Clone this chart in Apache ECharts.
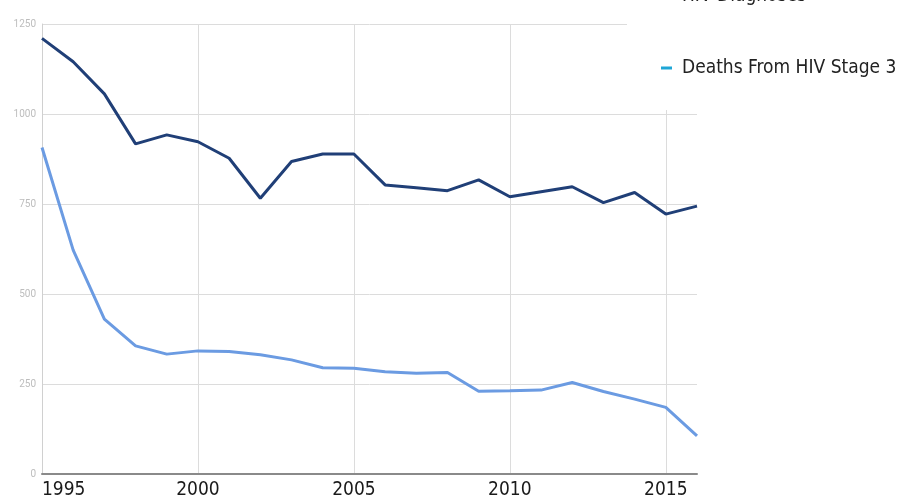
<!DOCTYPE html>
<html>
<head>
<meta charset="utf-8">
<script src="https://cdn.jsdelivr.net/npm/echarts@6/dist/echarts.min.js"></script>
<style>
  html, body { margin: 0; padding: 0; background: #fff; }
  #chart { width: 907px; height: 504px; }
</style>
</head>
<body>
<div id="chart"></div>
<script>
var years = ["1995", "1996", "1997", "1998", "1999", "2000", "2001", "2002", "2003", "2004", "2005",
  "2006", "2007", "2008", "2009", "2010", "2011", "2012", "2013", "2014", "2015", "2016"];
var diagnoses = [1210, 1145, 1056, 917, 942, 923, 877, 766, 868, 889, 889,
  803, 795, 787, 817, 770, 784, 798, 754, 782, 722, 744];
var deaths = [907, 622, 430, 356, 333, 342, 340, 331, 317, 295, 294,
  284, 280, 282, 230, 231, 233, 254, 229, 208, 185, 106];
var yTicks = [0, 250, 500, 750, 1000, 1250];

var condensed = "'DejaVu Sans Condensed', 'Liberation Sans Narrow', sans-serif";

var myChart = echarts.init(document.getElementById("chart"));

var option = {
  animation: false,
  grid: { left: 42, right: 210, top: 24, bottom: 30 },
  legend: {
    orient: "vertical",
    left: 627,
    top: -19,
    padding: [0, 0, 27, 34],
    backgroundColor: "#fff",
    icon: "rect",
    itemWidth: 11,
    itemHeight: 3,
    itemGap: 42,
    z: 10,
    textStyle: {
      fontFamily: condensed,
      fontSize: 19,
      lineHeight: 30,
      color: "#222",
      padding: [0, 0, 0, 5]
    },
    data: [
      { name: "HIV Diagnoses", itemStyle: { color: "#203f77" } },
      { name: "Deaths From HIV Stage 3", itemStyle: { color: "#1ea6d6" } }
    ]
  },
  xAxis: {
    type: "category",
    data: years,
    boundaryGap: false,
    axisLine: { lineStyle: { color: "#8a8a8a", width: 2 } },
    axisTick: { show: false },
    axisLabel: {
      interval: 4,
      alignMinLabel: "left",
      margin: 7,
      fontFamily: condensed,
      fontSize: 19,
      color: "#1a1a1a"
    },
    splitLine: { show: true, interval: 4, lineStyle: { color: "#dcdcdc", width: 1 } }
  },
  yAxis: {
    type: "value",
    min: yTicks[0],
    max: yTicks[yTicks.length - 1],
    interval: 250,
    axisLine: { show: true, lineStyle: { color: "#d0d0d0", width: 1 } },
    axisTick: { show: false },
    axisLabel: {
      margin: 6,
      fontFamily: "Roboto, sans-serif",
      fontSize: 10,
      color: "#bdbdbd",
      formatter: function (v) { return String(v); }
    },
    splitLine: { lineStyle: { color: "#dcdcdc", width: 1 } }
  },
  series: [
    {
      name: "HIV Diagnoses",
      type: "line",
      data: diagnoses,
      symbol: "none",
      lineStyle: { color: "#203f77", width: 3 },
      itemStyle: { color: "#203f77" }
    },
    {
      name: "Deaths From HIV Stage 3",
      type: "line",
      data: deaths,
      symbol: "none",
      lineStyle: { color: "#6b9be2", width: 3 },
      itemStyle: { color: "#6b9be2" }
    }
  ]
};

myChart.setOption(option);
</script>
</body>
</html>
